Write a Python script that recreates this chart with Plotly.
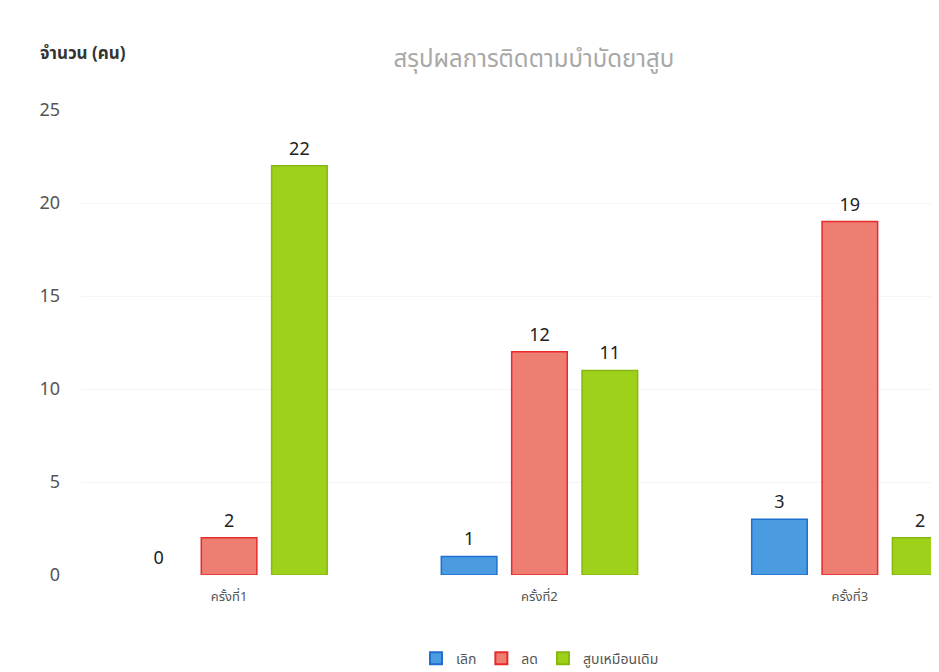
import plotly.graph_objects as go

categories = ["ครั้งที่1", "ครั้งที่2", "ครั้งที่3"]
series_names = ["เลิก", "ลด", "สูบเหมือนเดิม"]
quit_vals = [0, 1, 3]
reduce_vals = [2, 12, 19]
same_vals = [22, 11, 2]

fills = ["#4a9be0", "#ee7d72", "#9ed11a"]
lines = ["#1e6fd0", "#e82a2a", "#86b812"]
values = [quit_vals, reduce_vals, same_vals]

font_family = "Noto Sans Thai, Noto Sans, Open Sans, sans-serif"

fig = go.Figure()
for name, vals, fc, lc in zip(series_names, values, fills, lines):
    fig.add_trace(go.Bar(
        name=name, x=categories, y=vals,
        marker=dict(color=fc, line=dict(color=lc, width=[1.5 if v > 0 else 0 for v in vals])),
        text=[str(v) for v in vals], textposition="outside",
        textfont=dict(size=18, color="#222"), cliponaxis=False,
    ))

fig.update_layout(
    width=939, height=672,
    paper_bgcolor="white", plot_bgcolor="white",
    font=dict(family=font_family, color="#444"),
    margin=dict(l=73, r=0, t=102, b=105),
    barmode="group", bargap=0.32, bargroupgap=0.21,
    title=dict(text="สรุปผลการติดตามบำบัดยาสูบ", x=0.56, xanchor="center",
               y=0.925, yanchor="middle", font=dict(size=24, color="#a8a8a8")),
    legend=dict(orientation="h", x=0.53, xanchor="center", y=-0.18, yanchor="middle",
                font=dict(size=14, color="#555"), itemwidth=30, itemsizing="constant"),
    showlegend=True,
)
fig.update_xaxes(range=[-0.477, 2.313], showgrid=False, showline=False, ticks="",
                 ticklabelstandoff=12, tickfont=dict(size=13, color="#555"))
fig.update_yaxes(range=[0, 25], dtick=5, showgrid=True, gridcolor="#f5f5f5",
                 zeroline=False, showline=False, ticks="", ticklabelstandoff=20,
                 tickfont=dict(size=18, color="#555"))
fig.add_annotation(text="<b>จำนวน (คน)</b>", xref="paper", yref="paper",
                   x=-0.05, y=1.12, xanchor="left", yanchor="middle", showarrow=False,
                   font=dict(size=17, color="#333"))
fig.write_html("out.html")
